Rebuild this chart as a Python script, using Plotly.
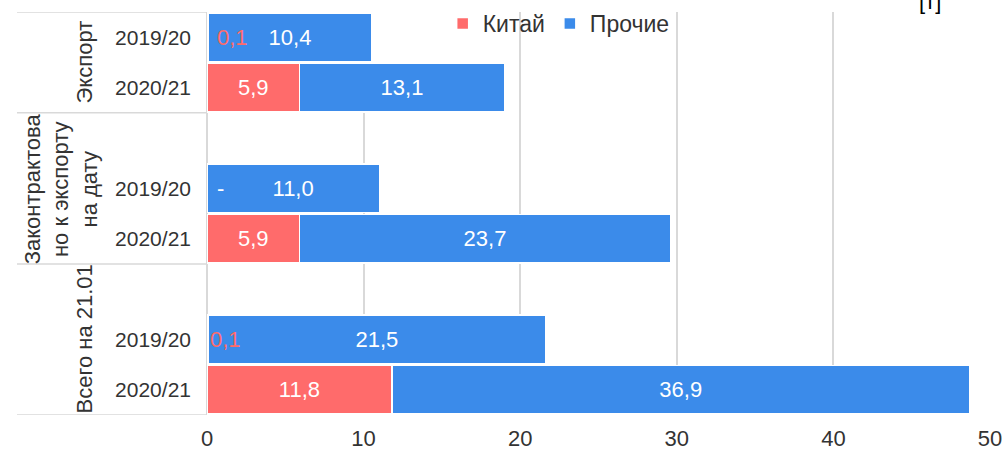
import plotly.graph_objects as go

# ---- data ----
groups = ["Экспорт", "Законтрактова<br>но к экспорту<br>на дату", "Всего на 21.01"]
years = ["2019/20", "2020/21"]
china = [0.1, 5.9, 0.0, 5.9, 0.1, 11.8]
other = [10.4, 13.1, 11.0, 23.7, 21.5, 36.9]
china_labels = ["0,1", "5,9", "-", "5,9", "0,1", "11,8"]
other_labels = ["10,4", "13,1", "11,0", "23,7", "21,5", "36,9"]
x_ticks = [0, 10, 20, 30, 40, 50]

RED = "#FF6B6B"
BLUE = "#3B8BEA"
GRID = "#D9D9D9"
TXT = "#333333"
FONT = "Liberation Sans, Arial, sans-serif"

# slot positions: each group occupies 3 slots (blank + 2 years); first blank is cut off
ypos = []
for gi in range(len(groups)):
    for yi in range(len(years)):
        ypos.append(gi * 3 + yi + 1)
ytext = [years[i % 2] for i in range(len(ypos))]

small = [v < 1 for v in china]
red_text = ["" if s else t for s, t in zip(small, china_labels)]

fig = go.Figure()
fig.add_trace(go.Bar(
    y=ypos, x=china, orientation="h", name="Китай",
    marker=dict(color=RED, line=dict(color="white", width=1.5)),
    text=red_text, textposition="inside", insidetextanchor="middle",
    textangle=0, constraintext="none",
    insidetextfont=dict(color="white", size=22, family=FONT),
    hoverinfo="skip",
))
fig.add_trace(go.Bar(
    y=ypos, x=other, orientation="h", name="Прочие",
    marker=dict(color=BLUE, line=dict(color="white", width=1.5)),
    text=other_labels, textposition="inside", insidetextanchor="middle",
    textangle=0, constraintext="none",
    insidetextfont=dict(color="white", size=22, family=FONT),
    hoverinfo="skip",
))

annotations = []
# labels for tiny China values
for i, s in enumerate(small):
    if s:
        is_zero = china[i] == 0
        annotations.append(dict(
            x=0, y=ypos[i], xref="x", yref="y", xanchor="left", yanchor="middle",
            text=china_labels[i], showarrow=False,
            xshift=8 if is_zero else (8 if i == 0 else 1),
            font=dict(color="white" if is_zero else RED, size=22, family=FONT),
        ))

# group labels (rotated)
group_x = [-0.157, -0.1865, -0.157]
for gi, g in enumerate(groups):
    members = [ypos[i] for i in range(len(ypos)) if i // 2 == gi]
    top = min(members) - 1 if gi > 0 else min(members)
    center = (top + max(members)) / 2
    annotations.append(dict(
        x=group_x[gi], y=center, xref="paper", yref="y",
        text=g, textangle=-90, showarrow=False, xanchor="center", yanchor="middle",
        font=dict(color=TXT, size=22, family=FONT),
    ))

# cut-off unit text at top right
annotations.append(dict(
    x=0.94, y=1, xref="paper", yref="paper", xanchor="right", yanchor="bottom",
    yshift=-4, text="[т]", showarrow=False,
    font=dict(color="#000000", size=22, family=FONT),
))

# divider lines in label area
shapes = []
for b in [0.5, 2.5, 5.5, 8.5]:
    shapes.append(dict(type="line", xref="paper", yref="y", x0=-0.2427, x1=0,
                       y0=b, y1=b, line=dict(color=GRID, width=1.5)))

fig.update_layout(
    barmode="stack",
    bargap=0.03,
    width=1007, height=459,
    margin=dict(l=207, r=17, t=12, b=44, autoexpand=False),
    paper_bgcolor="white", plot_bgcolor="white",
    font=dict(family=FONT, color=TXT, size=21),
    showlegend=True,
    legend=dict(orientation="h", x=0.301, xanchor="left", y=1.025, yanchor="top",
                bgcolor="rgba(0,0,0,0)", font=dict(size=23, color=TXT, family=FONT),
                traceorder="normal", itemwidth=30, tracegroupgap=0),
    annotations=annotations,
    shapes=shapes,
    xaxis=dict(range=[0, 50], tickvals=x_ticks, ticktext=[str(v) for v in x_ticks],
               showgrid=True, gridcolor=GRID, gridwidth=2,
               zeroline=True, zerolinecolor=GRID, zerolinewidth=2,
               showline=False, ticks="", ticklabelstandoff=8, automargin=False,
               tickfont=dict(size=22, color=TXT, family=FONT), fixedrange=True),
    yaxis=dict(range=[8.5, 0.5], tickvals=ypos, ticktext=ytext,
               showgrid=False, zeroline=False, showline=False, ticks="",
               ticklabelstandoff=15, automargin=False,
               tickfont=dict(size=21, color=TXT, family=FONT), fixedrange=True),
)

fig.write_html("out.html",
               config={"displayModeBar": False},
               post_script="document.body.style.margin='0px';document.body.style.overflow='hidden';")
